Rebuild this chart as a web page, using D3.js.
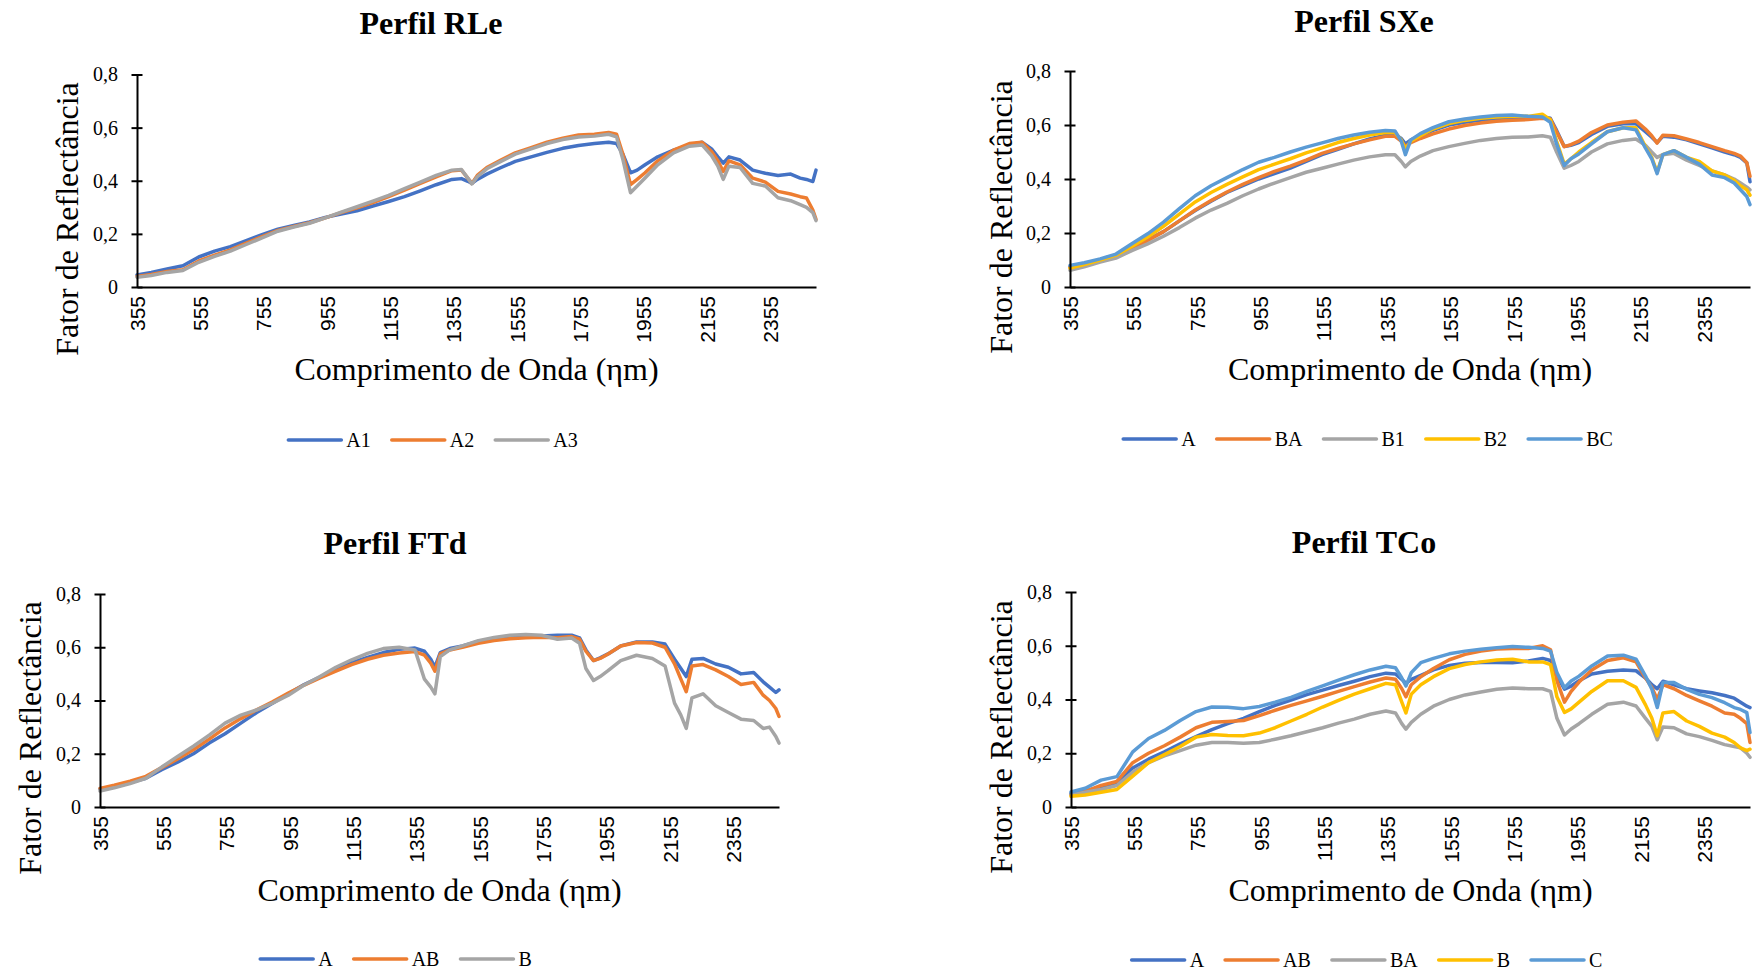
<!DOCTYPE html>
<html>
<head>
<meta charset="utf-8">
<script src="https://cdn.jsdelivr.net/npm/d3@7"></script>
<style>
  body { margin: 0; background: #fff; }
  svg { display: block; }
</style>
</head>
<body>
<svg id="chart" width="1753" height="972"></svg>
<script>
// Wavelength (nm) at which each reflectance value was sampled
const wavelengths = [
  355, 400, 450, 500, 550, 600, 650, 700, 750, 800,
  850, 900, 950, 1000, 1050, 1100, 1150, 1200, 1250, 1300,
  1350, 1380, 1400, 1413, 1430, 1460, 1500, 1550, 1600, 1650,
  1700, 1750, 1800, 1845, 1870, 1890, 1914, 1935, 1960, 2000,
  2050, 2100, 2140, 2170, 2190, 2207, 2225, 2260, 2300, 2340,
  2380, 2420, 2450, 2470, 2490, 2500
];
const xTickLabels = [355, 555, 755, 955, 1155, 1355, 1555, 1755, 1955, 2155, 2355];
const yTickValues = [0, 0.2, 0.4, 0.6, 0.8];

// Perfil RLe
const rleNames = ["A1", "A2", "A3"];
const rleA1 = [
  0.045, 0.055, 0.068, 0.080, 0.113, 0.135, 0.152, 0.175, 0.197, 0.218,
  0.232, 0.245, 0.262, 0.275, 0.287, 0.305, 0.322, 0.340, 0.362, 0.385,
  0.405, 0.408, 0.398, 0.390, 0.405, 0.425, 0.447, 0.473, 0.490, 0.507,
  0.522, 0.533, 0.540, 0.545, 0.540, 0.500, 0.430, 0.440, 0.460, 0.490,
  0.515, 0.535, 0.545, 0.520, 0.490, 0.466, 0.490, 0.478, 0.440, 0.428,
  0.420, 0.425, 0.410, 0.405, 0.397, 0.440
];
const rleA2 = [
  0.040, 0.047, 0.058, 0.065, 0.098, 0.120, 0.140, 0.165, 0.190, 0.213,
  0.228, 0.242, 0.260, 0.280, 0.298, 0.318, 0.340, 0.365, 0.390, 0.415,
  0.438, 0.440, 0.410, 0.390, 0.420, 0.450, 0.475, 0.505, 0.525, 0.545,
  0.560, 0.572, 0.575, 0.582, 0.575, 0.500, 0.385, 0.405, 0.430, 0.475,
  0.515, 0.540, 0.545, 0.510, 0.475, 0.435, 0.475, 0.460, 0.410, 0.395,
  0.360, 0.350, 0.340, 0.335, 0.290, 0.255
];
const rleA3 = [
  0.037, 0.043, 0.055, 0.062, 0.093, 0.115, 0.135, 0.160, 0.185, 0.210,
  0.226, 0.240, 0.260, 0.282, 0.302, 0.323, 0.345, 0.370, 0.395, 0.420,
  0.440, 0.442, 0.410, 0.388, 0.415, 0.445, 0.470, 0.500, 0.520, 0.540,
  0.555, 0.565, 0.568, 0.575, 0.565, 0.480, 0.355, 0.380, 0.410, 0.460,
  0.505, 0.530, 0.535, 0.495, 0.455, 0.405, 0.455, 0.450, 0.390, 0.380,
  0.336, 0.325, 0.310, 0.300, 0.280, 0.250
];

// Perfil SXe
const sxeNames = ["A", "BA", "B1", "B2", "BC"];
const sxeA = [
  0.075, 0.085, 0.100, 0.115, 0.145, 0.175, 0.205, 0.245, 0.283, 0.318,
  0.350, 0.375, 0.400, 0.420, 0.440, 0.465, 0.490, 0.510, 0.530, 0.548,
  0.562, 0.565, 0.550, 0.530, 0.545, 0.560, 0.580, 0.600, 0.610, 0.618,
  0.624, 0.628, 0.628, 0.630, 0.625, 0.580, 0.520, 0.525, 0.535, 0.565,
  0.595, 0.605, 0.605, 0.575, 0.555, 0.535, 0.558, 0.555, 0.545, 0.530,
  0.515, 0.500, 0.490, 0.480, 0.460, 0.390
];
const sxeBA = [
  0.072, 0.082, 0.097, 0.112, 0.142, 0.172, 0.205, 0.245, 0.285, 0.320,
  0.352, 0.380, 0.405, 0.428, 0.448, 0.470, 0.495, 0.513, 0.530, 0.545,
  0.558, 0.558, 0.540, 0.520, 0.535, 0.550, 0.567, 0.585, 0.598, 0.607,
  0.614, 0.618, 0.620, 0.625, 0.622, 0.575, 0.520, 0.527, 0.540, 0.572,
  0.600, 0.610, 0.615, 0.585, 0.560, 0.533, 0.562, 0.560, 0.548, 0.535,
  0.520, 0.505, 0.495, 0.485, 0.460, 0.410
];
const sxeB1 = [
  0.062, 0.075, 0.092, 0.107, 0.135, 0.160, 0.188, 0.220, 0.255, 0.285,
  0.310, 0.338, 0.363, 0.385, 0.405, 0.425, 0.440, 0.455, 0.470, 0.482,
  0.490, 0.490, 0.465, 0.445, 0.465, 0.485, 0.505, 0.520, 0.532, 0.543,
  0.550, 0.555, 0.556, 0.560, 0.555, 0.500, 0.440, 0.450, 0.465, 0.500,
  0.530, 0.543, 0.548, 0.525, 0.500, 0.480, 0.490, 0.495, 0.470, 0.450,
  0.430, 0.415, 0.400, 0.385, 0.370, 0.360
];
const sxeB2 = [
  0.070, 0.083, 0.100, 0.118, 0.150, 0.185, 0.225, 0.270, 0.315, 0.350,
  0.380, 0.408, 0.435, 0.455, 0.475, 0.497, 0.515, 0.535, 0.550, 0.563,
  0.572, 0.572, 0.545, 0.510, 0.540, 0.560, 0.585, 0.605, 0.617, 0.625,
  0.630, 0.632, 0.632, 0.640, 0.620, 0.540, 0.455, 0.475, 0.500, 0.535,
  0.575, 0.590, 0.590, 0.520, 0.480, 0.425, 0.490, 0.505, 0.480, 0.465,
  0.430, 0.415, 0.395, 0.375, 0.360, 0.340
];
const sxeBC = [
  0.080, 0.090, 0.104, 0.122, 0.160, 0.197, 0.240, 0.290, 0.338, 0.375,
  0.405, 0.435, 0.462, 0.480, 0.500, 0.518, 0.534, 0.550, 0.563, 0.573,
  0.580, 0.578, 0.540, 0.490, 0.545, 0.568, 0.590, 0.612, 0.622, 0.630,
  0.635, 0.637, 0.632, 0.630, 0.610, 0.530, 0.450, 0.475, 0.493, 0.530,
  0.575, 0.590, 0.582, 0.515, 0.475, 0.420, 0.490, 0.505, 0.480, 0.455,
  0.415, 0.405, 0.385, 0.360, 0.335, 0.305
];

// Perfil FTd
const ftdNames = ["A", "AB", "B"];
const ftdA = [
  0.068, 0.078, 0.092, 0.108, 0.140, 0.168, 0.200, 0.240, 0.275, 0.315,
  0.355, 0.390, 0.425, 0.460, 0.488, 0.515, 0.542, 0.562, 0.580, 0.592,
  0.597, 0.585, 0.555, 0.525, 0.580, 0.595, 0.605, 0.622, 0.632, 0.640,
  0.643, 0.642, 0.645, 0.645, 0.635, 0.590, 0.550, 0.560, 0.575, 0.605,
  0.620, 0.620, 0.612, 0.555, 0.520, 0.490, 0.555, 0.558, 0.537, 0.525,
  0.500, 0.505, 0.470, 0.450, 0.430, 0.440
];
const ftdAB = [
  0.070, 0.082, 0.097, 0.115, 0.148, 0.180, 0.215, 0.255, 0.297, 0.332,
  0.365, 0.395, 0.428, 0.458, 0.485, 0.510, 0.535, 0.555, 0.570, 0.578,
  0.584, 0.570, 0.540, 0.510, 0.575, 0.590, 0.600, 0.615, 0.625, 0.632,
  0.636, 0.638, 0.636, 0.640, 0.630, 0.585, 0.550, 0.558, 0.575, 0.605,
  0.618, 0.616, 0.600, 0.538, 0.480, 0.433, 0.530, 0.535, 0.515, 0.490,
  0.460, 0.468, 0.420, 0.400, 0.370, 0.340
];
const ftdB = [
  0.060, 0.072, 0.088, 0.108, 0.150, 0.190, 0.228, 0.270, 0.315, 0.345,
  0.365, 0.390, 0.420, 0.458, 0.490, 0.525, 0.553, 0.577, 0.595, 0.600,
  0.590, 0.480, 0.450, 0.425, 0.565, 0.590, 0.605, 0.625, 0.637, 0.645,
  0.648, 0.645, 0.630, 0.635, 0.615, 0.520, 0.475, 0.490, 0.512, 0.550,
  0.570, 0.558, 0.530, 0.390, 0.345, 0.295, 0.410, 0.425, 0.380, 0.355,
  0.330, 0.325, 0.295, 0.300, 0.265, 0.240
];

// Perfil TCo
const tcoNames = ["A", "AB", "BA", "B", "C"];
const tcoA = [
  0.050, 0.060, 0.075, 0.090, 0.145, 0.178, 0.205, 0.235, 0.262, 0.288,
  0.310, 0.330, 0.355, 0.378, 0.398, 0.418, 0.435, 0.452, 0.468, 0.485,
  0.498, 0.495, 0.475, 0.460, 0.475, 0.490, 0.510, 0.527, 0.535, 0.538,
  0.538, 0.537, 0.543, 0.553, 0.545, 0.490, 0.438, 0.450, 0.470, 0.495,
  0.505, 0.510, 0.507, 0.480, 0.455, 0.440, 0.468, 0.455, 0.440, 0.432,
  0.425, 0.415, 0.405, 0.390, 0.375, 0.370
];
const tcoAB = [
  0.045, 0.058, 0.080, 0.095, 0.165, 0.200, 0.228, 0.260, 0.295, 0.315,
  0.318, 0.322, 0.340, 0.360, 0.378, 0.395, 0.412, 0.430, 0.448, 0.465,
  0.480, 0.475, 0.440, 0.410, 0.455, 0.485, 0.515, 0.548, 0.568, 0.580,
  0.588, 0.590, 0.590, 0.600, 0.585, 0.470, 0.390, 0.430, 0.465, 0.510,
  0.545, 0.555, 0.540, 0.480, 0.445, 0.400, 0.455, 0.440, 0.415, 0.395,
  0.375, 0.350, 0.345, 0.330, 0.310, 0.240
];
const tcoBA = [
  0.045, 0.055, 0.065, 0.080, 0.130, 0.165, 0.190, 0.210, 0.230, 0.240,
  0.240, 0.237, 0.240, 0.252, 0.265, 0.280, 0.295, 0.312, 0.327, 0.345,
  0.357, 0.350, 0.310, 0.290, 0.315, 0.345, 0.375, 0.400, 0.417, 0.428,
  0.438, 0.443, 0.440, 0.440, 0.430, 0.330, 0.268, 0.290, 0.310, 0.345,
  0.382, 0.390, 0.376, 0.330, 0.300, 0.250, 0.298, 0.295, 0.272, 0.262,
  0.248, 0.232, 0.225, 0.220, 0.200, 0.185
];
const tcoB = [
  0.040, 0.045, 0.055, 0.065, 0.115, 0.165, 0.195, 0.225, 0.260, 0.270,
  0.266, 0.265, 0.275, 0.295, 0.320, 0.345, 0.372, 0.397, 0.420, 0.440,
  0.460, 0.455, 0.390, 0.350, 0.420, 0.455, 0.485, 0.515, 0.530, 0.540,
  0.547, 0.550, 0.540, 0.540, 0.530, 0.410, 0.352, 0.365, 0.390, 0.430,
  0.470, 0.470, 0.445, 0.380, 0.330, 0.265, 0.350, 0.355, 0.320, 0.300,
  0.275, 0.260, 0.240, 0.220, 0.210, 0.215
];
const tcoC = [
  0.056, 0.070, 0.100, 0.113, 0.205, 0.255, 0.285, 0.322, 0.355, 0.372,
  0.371, 0.366, 0.374, 0.390, 0.408, 0.430, 0.451, 0.472, 0.492, 0.510,
  0.524, 0.518, 0.480, 0.450, 0.500, 0.537, 0.553, 0.570, 0.580, 0.587,
  0.593, 0.597, 0.594, 0.590, 0.580, 0.500, 0.444, 0.469, 0.487, 0.525,
  0.562, 0.565, 0.550, 0.487, 0.438, 0.370, 0.463, 0.463, 0.438, 0.419,
  0.407, 0.388, 0.370, 0.363, 0.351, 0.277
];

const palette = ["#4472C4", "#ED7D31", "#A5A5A5", "#FFC000", "#5B9BD5"];
const yAxisTitle = "Fator de Reflectância";
const xAxisTitle = "Comprimento de Onda (ηm)";

// Layout of the four charts on the page
const panels = [
  { title: "Perfil RLe", names: rleNames, series: [rleA1, rleA2, rleA3],
    left: 137, right: 816, top: 74.5, bottom: 287,
    titleX: 431, titleY: 34, xTitleY: 380, yTitleX: 77.5, yTitleY: 219,
    legendX: 433, legendY: 440 },
  { title: "Perfil SXe", names: sxeNames, series: [sxeA, sxeBA, sxeB1, sxeB2, sxeBC],
    left: 1070, right: 1750, top: 71, bottom: 287,
    titleX: 1364, titleY: 32, xTitleY: 380, yTitleX: 1012, yTitleY: 217,
    legendX: 1368, legendY: 439 },
  { title: "Perfil FTd", names: ftdNames, series: [ftdA, ftdAB, ftdB],
    left: 100, right: 779, top: 594, bottom: 807,
    titleX: 395, titleY: 554, xTitleY: 901, yTitleX: 41, yTitleY: 738,
    legendX: 396, legendY: 959 },
  { title: "Perfil TCo", names: tcoNames, series: [tcoA, tcoAB, tcoBA, tcoB, tcoC],
    left: 1071, right: 1750, top: 592, bottom: 807,
    titleX: 1364, titleY: 553, xTitleY: 901, yTitleX: 1012, yTitleY: 737,
    legendX: 1367, legendY: 960 }
];

const serif = "'Liberation Serif', 'Times New Roman', serif";
const sans = "'Liberation Sans', Arial, sans-serif";
const ptBR = d3.formatLocale({ decimal: ",", thousands: ".", grouping: [3], currency: ["R$", ""] });
const fmtY = ptBR.format("");

const svg = d3.select("#chart");

function drawPanel(p) {
  const g = svg.append("g");
  const x = d3.scaleLinear().domain([wavelengths[0], wavelengths[wavelengths.length - 1]]).range([p.left, p.right]);
  const y = d3.scaleLinear().domain([0, 0.8]).range([p.bottom, p.top]);

  // title
  g.append("text")
    .attr("x", p.titleX).attr("y", p.titleY)
    .attr("text-anchor", "middle")
    .style("font-family", serif).style("font-size", "32px").style("font-weight", "bold")
    .text(p.title);

  // spectra
  const line = d3.line()
    .x((d, i) => x(wavelengths[i]))
    .y(d => y(d));
  p.series.forEach((s, i) => {
    g.append("path")
      .datum(s)
      .attr("d", line)
      .attr("fill", "none")
      .attr("stroke", palette[i])
      .attr("stroke-width", 3.5)
      .attr("stroke-linejoin", "round")
      .attr("stroke-linecap", "round");
  });

  // y axis with cross tick marks
  const yAxis = g.append("g")
    .attr("transform", `translate(${p.left},0)`)
    .call(d3.axisLeft(y).tickValues(yTickValues).tickFormat(fmtY).tickSize(0).tickPadding(19));
  yAxis.select(".domain").attr("stroke", "#000").attr("stroke-width", 2);
  yAxis.selectAll(".tick line").remove();
  yAxis.selectAll(".tick").append("line")
    .attr("x1", -5.5).attr("x2", 5.5)
    .attr("stroke", "#000").attr("stroke-width", 2);
  yAxis.selectAll(".tick text")
    .style("font-family", serif).style("font-size", "20px").attr("fill", "#000");

  // x axis with rotated category labels
  const xAxis = g.append("g")
    .attr("transform", `translate(0,${p.bottom})`)
    .call(d3.axisBottom(x).tickValues(xTickLabels).tickFormat(d3.format("d")).tickSize(0).tickSizeOuter(0));
  xAxis.select(".domain").attr("stroke", "#000").attr("stroke-width", 2);
  xAxis.selectAll(".tick text")
    .attr("transform", "rotate(-90)")
    .attr("x", -9).attr("y", 0).attr("dy", "0.35em")
    .attr("text-anchor", "end")
    .style("font-family", sans).style("font-size", "21px").attr("fill", "#000");

  // axis titles
  g.append("text")
    .attr("x", (p.left + p.right) / 2).attr("y", p.xTitleY)
    .attr("text-anchor", "middle")
    .style("font-family", serif).style("font-size", "32px")
    .text(xAxisTitle);
  g.append("text")
    .attr("transform", `translate(${p.yTitleX},${p.yTitleY}) rotate(-90)`)
    .attr("text-anchor", "middle")
    .style("font-family", serif).style("font-size", "32px")
    .text(yAxisTitle);

  // legend
  const lg = g.append("g");
  let offset = 0;
  p.names.forEach((name, i) => {
    const item = lg.append("g").attr("transform", `translate(${offset},0)`);
    item.append("line")
      .attr("x1", 0).attr("x2", 53)
      .attr("stroke", palette[i]).attr("stroke-width", 3.5).attr("stroke-linecap", "round");
    const t = item.append("text")
      .attr("x", 58).attr("y", 7)
      .style("font-family", serif).style("font-size", "20px")
      .text(name);
    offset += 58 + t.node().getComputedTextLength() + 21;
  });
  const legendWidth = offset - 21;
  lg.attr("transform", `translate(${p.legendX - legendWidth / 2},${p.legendY})`);
}

panels.forEach(drawPanel);
</script>
</body>
</html>
